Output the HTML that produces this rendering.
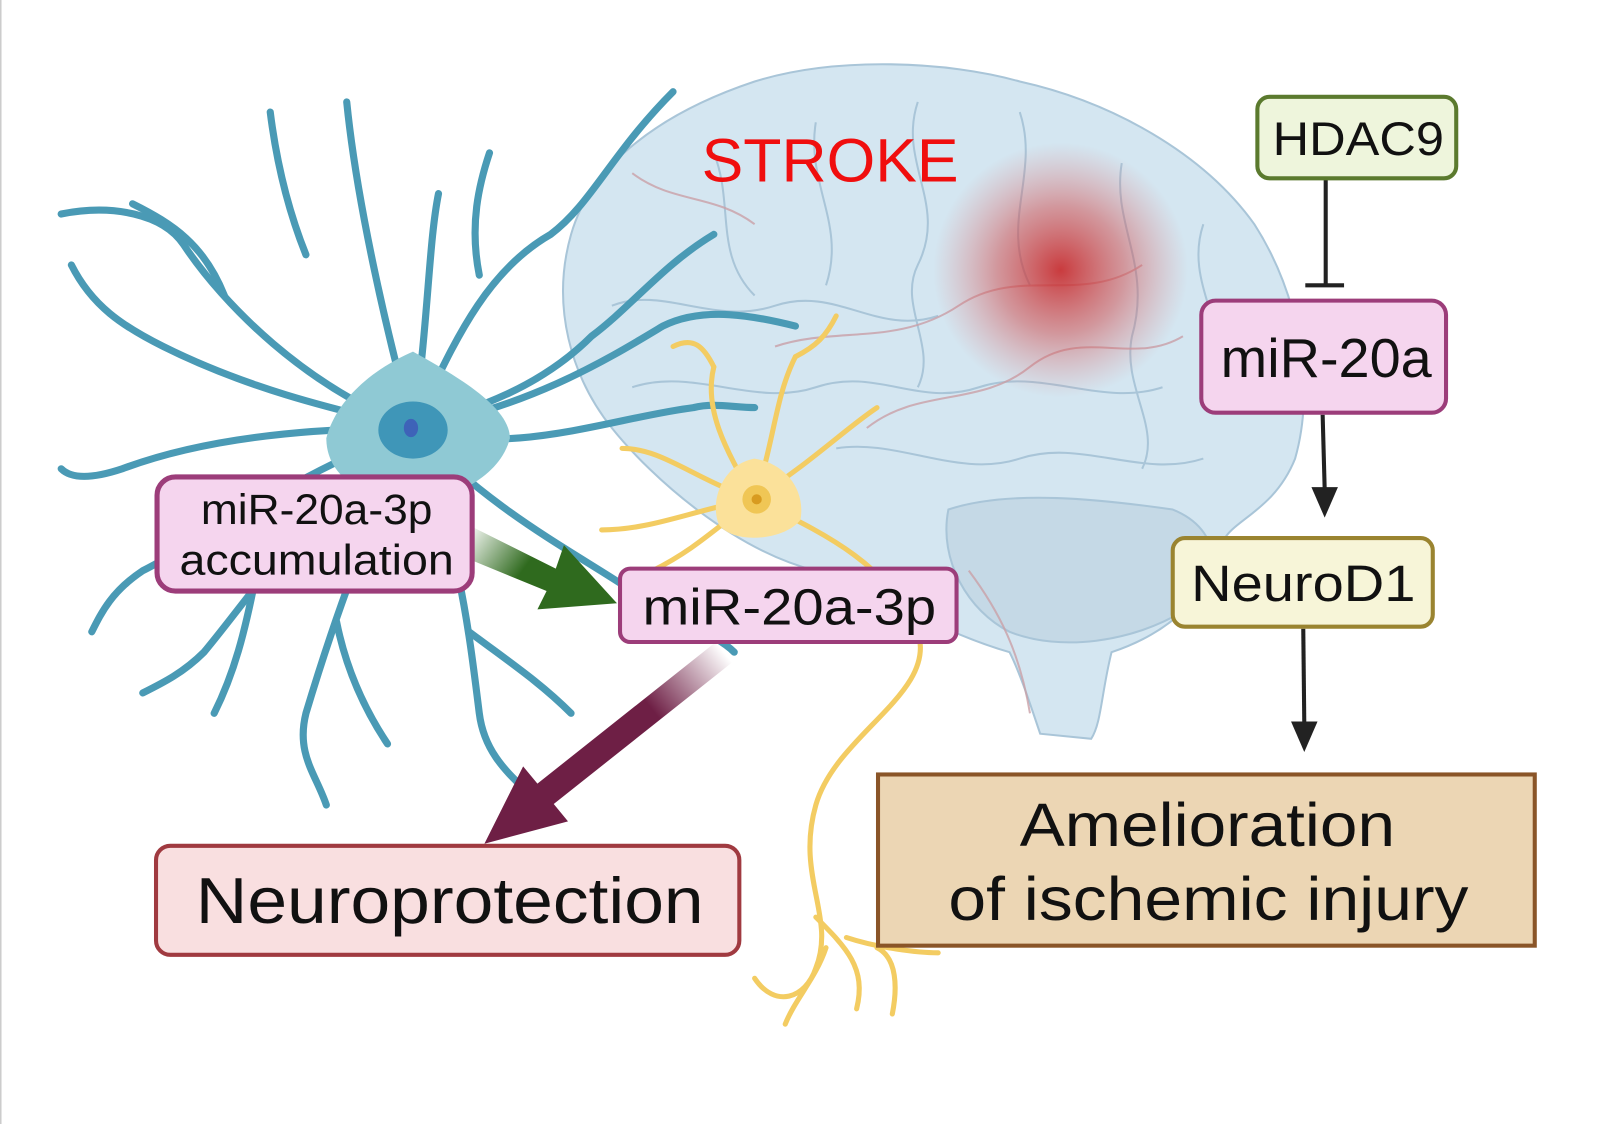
<!DOCTYPE html>
<html><head><meta charset="utf-8"><style>
html,body{margin:0;padding:0;background:#fff;}
svg{display:block;}
text{font-family:"Liberation Sans",sans-serif;}
</style></head><body>
<svg width="1599" height="1124" viewBox="0 0 1568 1103" preserveAspectRatio="none" xmlns="http://www.w3.org/2000/svg">
<defs>
<radialGradient id="glow" cx="0.5" cy="0.5" r="0.5">
<stop offset="0" stop-color="#c8282a" stop-opacity="0.9"/>
<stop offset="0.5" stop-color="#d04848" stop-opacity="0.5"/>
<stop offset="1" stop-color="#e07070" stop-opacity="0"/>
</radialGradient>
<linearGradient id="gArr" x1="0" y1="0" x2="1" y2="0.4">
<stop offset="0" stop-color="#2f6a1e" stop-opacity="0"/>
<stop offset="0.5" stop-color="#2f6a1e"/>
<stop offset="1" stop-color="#2f6a1e"/>
</linearGradient>
<linearGradient id="mArr" x1="710" y1="640" x2="475" y2="828" gradientUnits="userSpaceOnUse">
<stop offset="0" stop-color="#6e1f45" stop-opacity="0"/>
<stop offset="0.3" stop-color="#6e1f45"/>
<stop offset="1" stop-color="#6e1f45"/>
</linearGradient>
</defs>
<rect x="0" y="0" width="1568" height="1103" fill="#fff"/>
<rect x="0" y="0" width="1.5" height="1103" fill="#ccc"/>
<!-- brain -->
<path d="M560,230 C580,160 650,110 740,80 C820,55 930,60 1000,80 C1090,100 1180,150 1230,220 C1275,290 1290,380 1270,450 C1250,500 1210,510 1200,530 C1190,580 1150,620 1090,640 C1080,680 1080,710 1070,725 L1020,720 C1010,690 1000,660 990,640 C920,620 860,580 800,560 C720,540 640,470 600,420 C560,370 540,300 560,230 Z" fill="#d4e6f1" stroke="#a9c5d8" stroke-width="2"/>
<path d="M930,500 C990,480 1080,490 1150,500 C1200,520 1200,570 1160,600 C1110,630 1040,640 990,620 C950,600 920,550 930,500 Z" fill="#c5d9e6" stroke="#a9c5d8" stroke-width="2"/>
<g fill="none" stroke="#a9c5d8" stroke-width="2">
<path d="M600,300 C650,280 700,320 760,300 C820,280 860,330 920,310"/>
<path d="M620,380 C680,360 740,400 800,380 C860,360 900,400 960,380 C1020,360 1080,400 1140,380"/>
<path d="M700,150 C720,200 700,250 740,290"/>
<path d="M800,120 C790,180 830,220 810,280"/>
<path d="M900,100 C880,160 930,200 900,260 C880,300 920,340 900,380"/>
<path d="M1000,110 C1020,170 980,220 1010,280"/>
<path d="M1100,160 C1090,220 1130,260 1110,330 C1100,380 1140,420 1120,460"/>
<path d="M1180,220 C1160,280 1210,320 1190,380"/>
<path d="M820,440 C880,430 940,470 1000,450 C1060,430 1120,470 1180,450"/>
</g>
<g fill="none" stroke="#c9a0a8" stroke-width="2" opacity="0.8">
<path d="M760,340 C820,320 880,340 940,300 C1000,260 1060,300 1120,260"/>
<path d="M850,420 C900,380 960,400 1010,360 C1060,320 1110,360 1160,330"/>
<path d="M620,170 C660,200 700,190 740,220"/>
<path d="M950,560 C980,600 1000,640 1010,700"/>
</g>
<circle cx="1040" cy="265" r="125" fill="url(#glow)"/>
<text x="688" y="178" font-size="60" fill="#f00e0e" textLength="252" lengthAdjust="spacingAndGlyphs">STROKE</text>
<!-- blue neuron -->
<g fill="none" stroke="#4a9ab5" stroke-width="7" stroke-linecap="round">
<path d="M405,420 C380,330 350,200 340,100"/>
<path d="M405,420 C420,320 420,240 430,190"/>
<path d="M405,420 C440,350 470,270 540,230 C580,200 600,150 660,90"/>
<path d="M405,420 C470,400 530,380 580,330 C620,300 650,260 700,230"/>
<path d="M405,420 C300,380 220,300 180,240 C160,210 110,200 60,210"/>
<path d="M405,420 C320,400 240,380 160,340 C120,320 90,300 70,260"/>
<path d="M405,420 C300,420 200,430 120,460 C90,470 70,470 60,460"/>
<path d="M405,420 C500,450 600,410 680,400 C700,395 720,400 740,400"/>
<path d="M405,420 C520,400 600,350 650,320 C690,300 740,310 780,320"/>
<path d="M405,420 C480,500 560,540 620,580 C660,610 700,620 720,640"/>
<path d="M405,420 C450,530 460,620 470,700 C475,740 500,760 520,780"/>
<path d="M405,420 C360,520 330,600 300,700 C290,740 310,760 320,790"/>
<path d="M405,420 C300,500 250,580 200,640 C180,660 160,670 140,680"/>
<path d="M405,420 C280,470 200,530 140,560 C110,580 100,600 90,620"/>
<path d="M300,250 C280,200 270,150 265,110"/>
<path d="M220,290 C200,240 170,220 130,200"/>
<path d="M470,270 C460,220 470,180 480,150"/>
<path d="M330,610 C340,660 360,700 380,730"/>
<path d="M460,620 C500,650 530,670 560,700"/>
<path d="M250,570 C240,620 230,660 210,700"/>
</g>
<path d="M405,345 C450,370 500,400 500,430 C490,470 440,490 405,495 C360,490 320,470 320,430 C330,390 370,360 405,345 Z" fill="#8fc9d4"/>
<ellipse cx="405" cy="422" rx="34" ry="28" fill="#3f96b8"/>
<ellipse cx="403" cy="420" rx="7" ry="9" fill="#3e63b8"/>
<!-- yellow neuron -->
<g fill="none" stroke="#f3cc62" stroke-width="5" stroke-linecap="round">
<path d="M740,490 C710,440 690,400 700,360"/>
<path d="M740,490 C760,430 760,390 780,350"/>
<path d="M740,490 C800,450 830,420 860,400"/>
<path d="M740,490 C680,470 650,440 610,440"/>
<path d="M740,490 C680,500 640,520 590,520"/>
<path d="M740,490 C700,520 680,540 640,560"/>
<path d="M740,490 C800,520 870,550 900,620 C920,680 820,720 800,790 C780,860 820,900 800,950 C790,980 760,990 740,960"/>
<path d="M800,900 C830,930 850,950 840,990"/>
<path d="M810,930 C800,960 780,980 770,1005"/>
<path d="M860,930 C880,940 880,970 875,995"/>
<path d="M830,920 C860,930 900,935 920,935"/>
<path d="M700,360 C690,340 680,330 660,340"/>
<path d="M780,350 C800,340 810,330 820,310"/>
</g>
<path d="M740,450 C770,455 790,480 785,510 C770,530 720,535 705,515 C695,490 710,455 740,450 Z" fill="#fbe19a"/>
<circle cx="742" cy="490" r="14" fill="#f0c655"/>
<circle cx="742" cy="490" r="5" fill="#d89b20"/>
<!-- arrows -->
<polygon points="465,518 545,558 553,535 605,592 527,598 536,580 458,548" fill="url(#gArr)"/>
<polygon points="718,650 543,789 557,806 475,828 513,752 527,769 702,630" fill="url(#mArr)"/>
<!-- right pathway -->
<g stroke="#222" stroke-width="4" fill="#222">
<line x1="1300" y1="175" x2="1300" y2="280"/>
<line x1="1280" y1="280" x2="1318" y2="280"/>
<line x1="1297" y1="407" x2="1299" y2="480"/>
<polygon points="1286,478 1312,478 1299,508" stroke="none"/>
<line x1="1278" y1="617" x2="1279" y2="710"/>
<polygon points="1266,708 1292,708 1279,738" stroke="none"/>
</g>
<rect x="1233" y="95" width="195" height="80" rx="12" fill="#eef5dc" stroke="#5b7a2e" stroke-width="4"/>
<text x="1248" y="152" font-size="46" fill="#111" textLength="168" lengthAdjust="spacingAndGlyphs">HDAC9</text>
<rect x="1178" y="295" width="240" height="110" rx="14" fill="#f5d5ee" stroke="#9c3d7a" stroke-width="4"/>
<text x="1197" y="370" font-size="54" fill="#111" textLength="207" lengthAdjust="spacingAndGlyphs">miR-20a</text>
<rect x="1150" y="528" width="255" height="87" rx="12" fill="#f7f5d8" stroke="#9a8430" stroke-width="4"/>
<text x="1168" y="590" font-size="50" fill="#111" textLength="220" lengthAdjust="spacingAndGlyphs">NeuroD1</text>
<rect x="861" y="760" width="644" height="168" fill="#ecd6b4" stroke="#8a5528" stroke-width="4"/>
<text x="1000" y="830" font-size="60" fill="#111" textLength="368" lengthAdjust="spacingAndGlyphs">Amelioration</text>
<text x="930" y="903" font-size="60" fill="#111" textLength="510" lengthAdjust="spacingAndGlyphs">of ischemic injury</text>
<rect x="153" y="830" width="572" height="107" rx="14" fill="#f9dfe0" stroke="#a03a40" stroke-width="4"/>
<text x="192" y="906" font-size="64" fill="#111" textLength="498" lengthAdjust="spacingAndGlyphs">Neuroprotection</text>
<rect x="154" y="468" width="309" height="112" rx="18" fill="#f5d5ee" stroke="#9c3d7a" stroke-width="5"/>
<text x="197" y="514" font-size="42" fill="#111" textLength="227" lengthAdjust="spacingAndGlyphs">miR-20a-3p</text>
<text x="176" y="564" font-size="42" fill="#111" textLength="269" lengthAdjust="spacingAndGlyphs">accumulation</text>
<rect x="608" y="558" width="330" height="72" rx="10" fill="#f5d5ee" stroke="#9c3d7a" stroke-width="4"/>
<text x="630" y="613" font-size="50" fill="#111" textLength="288" lengthAdjust="spacingAndGlyphs">miR-20a-3p</text>
</svg>
</body></html>
